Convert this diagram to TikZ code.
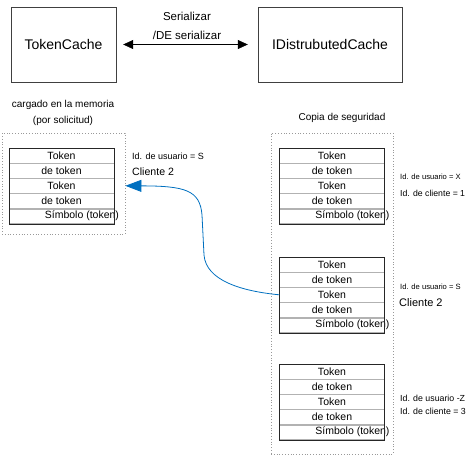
\documentclass[tikz,border=0pt]{standalone}
\usepackage{fontspec}
\setmainfont{Liberation Sans}
\usetikzlibrary{arrows.meta,positioning}
\definecolor{linkblue}{RGB}{0,112,192}
\begin{document}
\begin{tikzpicture}[x=1pt,y=-1pt,
    box/.style={draw=black!75,minimum width=105pt,minimum height=75pt,font=\fontsize{14}{16}\selectfont},
    row/.style={draw=black!30,minimum width=105pt,minimum height=14.8pt,inner sep=0pt,font=\fontsize{10.5}{12}\selectfont},
    grp/.style={draw=black!40,dotted,thick},
    lbl/.style={inner sep=0pt,anchor=west}]
  \useasboundingbox (0,0) rectangle (473,456);
  % cache nodes
  \node[box] (tc) at (63.5,44.5) {TokenCache};
  \node[box,minimum width=144pt] (dc) at (330,44.5) {IDistrubutedCache};
  \draw[{Triangle[length=10pt,width=9pt]}-{Triangle[length=10pt,width=9pt]},semithick,
    shorten <=7pt,shorten >=10pt] (tc) -- (dc);
  \node[font=\fontsize{11.5}{13}\selectfont] (ser) at (187,16) {Serializar};
  \node[font=\fontsize{11.5}{13}\selectfont] (deser) at (187,35) {/DE serializar};
  % group captions
  \node[font=\fontsize{10}{12}\selectfont] (memcap) at (63,105) {cargado en la memoria};
  \node[font=\fontsize{10}{12}\selectfont] (memcap2) at (63,121) {(por solicitud)};
  \node[font=\fontsize{10}{12}\selectfont] (bakcap) at (342,118) {Copia de seguridad};
  \node[grp,minimum width=123pt,minimum height=101pt] (mem) at (63.5,183.5) {};
  \node[grp,minimum width=122pt,minimum height=321pt] (bak) at (332,293.5) {};
  % token stacks
  \foreach \s/\x/\y in {m/61.5/155.4, a/332/155.4, b/332/264.4, c/332/371.4} {
    \node[row] (\s1) at (\x,\y) {Token};
    \node[row,below=0pt of \s1] (\s2) {de token};
    \node[row,below=0pt of \s2] (\s3) {Token};
    \node[row,below=0pt of \s3] (\s4) {de token};
    \node[row,below=0pt of \s4] (\s5) {};
    \node[inner sep=0pt,anchor=east,font=\fontsize{10.5}{12}\selectfont]
      (\s6) at ([xshift=5pt]\s5.east) {Símbolo (token)};
    \draw[black!85,semithick] (\s1.north west) rectangle (\s5.south east);
  }
  % user labels
  \node[lbl,font=\fontsize{9}{11}\selectfont] (mu) at (132,156) {Id. de usuario = S};
  \node[lbl,font=\fontsize{10.6}{12}\selectfont] (mc) at (132,172) {Cliente 2};
  \node[lbl,font=\fontsize{7.6}{9}\selectfont] (au) at (400,177) {Id. de usuario = X};
  \node[lbl,font=\fontsize{8.7}{10}\selectfont] (ac) at (400,193) {Id. de cliente = 1};
  \node[lbl,font=\fontsize{7.6}{9}\selectfont] (bu) at (400,287) {Id. de usuario = S};
  \node[lbl,font=\fontsize{11}{13}\selectfont] (bc) at (399,303) {Cliente 2};
  \node[lbl,font=\fontsize{8.8}{10}\selectfont] (cu) at (400,398) {Id. de usuario -Z};
  \node[lbl,font=\fontsize{8.8}{10}\selectfont] (cc) at (400,411) {Id. de cliente = 3};
  % load link
  \draw[linkblue,line width=0.8pt,-{Triangle[length=16pt,width=12pt]}]
    (b3.west) .. controls (240,291) and (206,280) .. (204,255)
    -- (202,215) .. controls (200,190) and (185,186) .. (mem.east |- m3);
\end{tikzpicture}
\end{document}
